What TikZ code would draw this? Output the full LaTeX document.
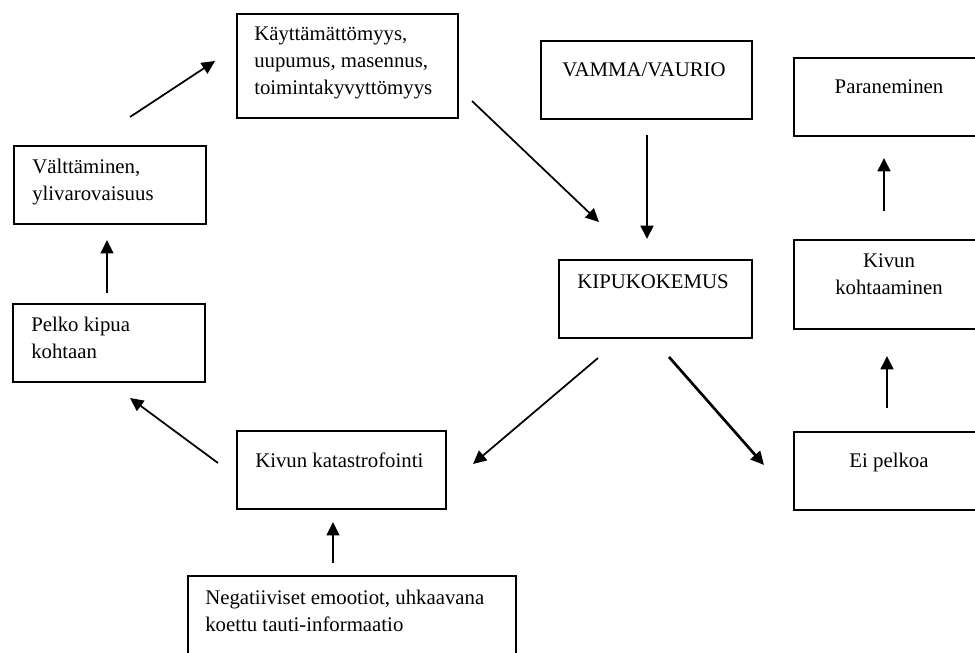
\documentclass[tikz,border=0pt]{standalone}
\usepackage{fontspec}
\setmainfont{Liberation Serif}
\usetikzlibrary{arrows.meta}
\begin{document}
\begin{tikzpicture}[x=0.75pt,y=-0.75pt,
  box/.style={draw, line width=1.5pt, rectangle, inner sep=0pt, anchor=north west},
  txt/.style={inner sep=0pt, font=\fontsize{15.6pt}{20pt}\selectfont, align=left, anchor=base west},
  ctxt/.style={inner sep=0pt, font=\fontsize{15.6pt}{20pt}\selectfont, align=center, anchor=base},
  thinarrow/.style={line width=1.3pt, -{Triangle[length=10pt,width=9.5pt]}},
  thickarrow/.style={line width=2pt, -{Triangle[length=10pt,width=9.5pt]}}]
\useasboundingbox (0,0) rectangle (975,653);
\clip (0,0) rectangle (975,653);
% boxes
\node[box, minimum width=221*0.75pt, minimum height=104*0.75pt] (kaytt) at (236,13) {};
\node[box, minimum width=192*0.75pt, minimum height=78*0.75pt] (valt) at (13,145) {};
\node[box, minimum width=192*0.75pt, minimum height=78*0.75pt] (pelko) at (12,303) {};
\node[box, minimum width=211*0.75pt, minimum height=78*0.75pt] (vamma) at (540,40) {};
\node[box, minimum width=192*0.75pt, minimum height=78*0.75pt] (paran) at (793,57) {};
\node[box, minimum width=192*0.75pt, minimum height=89*0.75pt] (kohta) at (793,239) {};
\node[box, minimum width=193*0.75pt, minimum height=78*0.75pt] (kipu) at (558,259) {};
\node[box, minimum width=192*0.75pt, minimum height=78*0.75pt] (eipel) at (793,431) {};
\node[box, minimum width=209*0.75pt, minimum height=78*0.75pt] (katas) at (236,430) {};
\node[box, minimum width=328*0.75pt, minimum height=105*0.75pt] (neg) at (187,575) {};
% texts (base anchor = baseline of the last line)
\node[txt] (kayttT) at (254,94) {Käyttämättömyys,\\uupumus, masennus,\\toimintakyvyttömyys};
\node[txt] (valtT) at (32,200) {Välttäminen,\\ylivarovaisuus};
\node[txt] (pelkoT) at (31,358) {Pelko kipua\\kohtaan};
\node[ctxt] (vammaT) at (644,76) {VAMMA/VAURIO};
\node[ctxt] (paranT) at (889,93) {Paraneminen};
\node[ctxt] (kohtaT) at (889,294) {Kivun\\kohtaaminen};
\node[ctxt] (kipuT) at (653,288) {KIPUKOKEMUS};
\node[ctxt] (eipelT) at (889,467) {Ei pelkoa};
\node[txt] (katasT) at (255,467) {Kivun katastrofointi};
\node[txt] (negT) at (205,631) {Negatiiviset emootiot, uhkaavana\\koettu tauti-informaatio};
% arrow end points
\coordinate (a1s) at (130,117); \coordinate (a1e) at (215,61);
\coordinate (a2s) at (472,101); \coordinate (a2e) at (599,222);
\coordinate (a3s) at (647,135); \coordinate (a3e) at (647,239);
\coordinate (a4s) at (598,358); \coordinate (a4e) at (473,464);
\coordinate (a5s) at (669,357); \coordinate (a5e) at (764,465);
\coordinate (a6s) at (884,211); \coordinate (a6e) at (884,158);
\coordinate (a7s) at (887,408); \coordinate (a7e) at (887,356);
\coordinate (a8s) at (218,463); \coordinate (a8e) at (130,398);
\coordinate (a9s) at (333,563); \coordinate (a9e) at (333,522);
\coordinate (a10s) at (107,293); \coordinate (a10e) at (107,240);
% arrows
\draw[thinarrow] (a1s) -- (a1e);
\draw[thinarrow] (a2s) -- (a2e);
\draw[thickarrow] (a3s) -- (a3e);
\draw[thinarrow] (a4s) -- (a4e);
\draw[thickarrow] (a5s) -- (a5e);
\draw[thickarrow] (a6s) -- (a6e);
\draw[thickarrow] (a7s) -- (a7e);
\draw[thinarrow] (a8s) -- (a8e);
\draw[thinarrow] (a9s) -- (a9e);
\draw[thinarrow] (a10s) -- (a10e);
\end{tikzpicture}
\end{document}
